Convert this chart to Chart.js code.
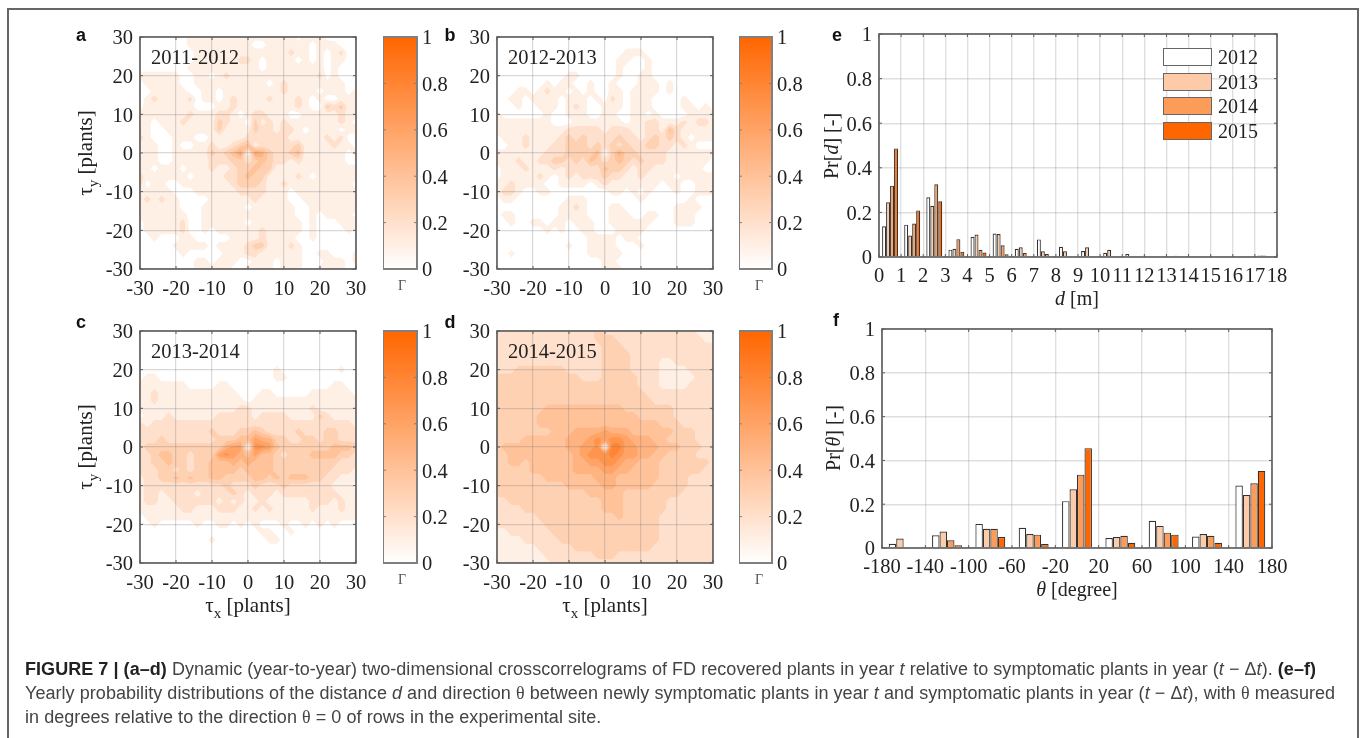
<!DOCTYPE html>
<html>
<head>
<meta charset="utf-8">
<script src="https://cdn.jsdelivr.net/npm/chart.js@4"></script>
<style>
  html, body { margin: 0; background: #fff; }
  #page { position: relative; width: 1360px; height: 738px; overflow: hidden; filter: blur(0.35px); }
  #page canvas { position: absolute; }
  .t { position: absolute; font-family: "Liberation Serif", serif; font-size: 20px; color: #222; white-space: nowrap; transform: translate(-50%, -50%); }
  .l { transform: translate(0, -50%); }
  .v { transform: translate(-50%, -50%) rotate(-90deg); }
  .b { font-family: "Liberation Sans", sans-serif; font-weight: bold; font-size: 18px; color: #111; }
  .s { font-size: 15px; position: relative; top: 6px; }
  .rule { position: absolute; background: #666; }
  .cap { position: absolute; left: 25px; font-family: "Liberation Sans", sans-serif; font-size: 18px; letter-spacing: 0.05px; color: #444; white-space: nowrap; transform: translateY(-50%); }
  .cap b { color: #222; }
  .cap i.g { font-family: "Liberation Serif", serif; font-style: normal; }
  .swatch { position: absolute; box-sizing: border-box; width: 49px; height: 18px; border: 1.5px solid #666; }
</style>
</head>
<body>
<div id="page"></div>
<script>
// grid positions of the crosscorrelograms, plants
const tauValues = [-30,-28,-26,-24,-22,-20,-18,-16,-14,-12,-10,-8,-6,-4,-2,0,2,4,6,8,10,12,14,16,18,20,22,24,26,28,30];

// Gamma in tenths, top row is tau_y = 30, left column is tau_x = -30
const gammaA = [
  "00000 00111 11111 11111 11011 10000 0",
  "00000 00111 11111 10011 11110 11100 0",
  "00000 00011 11111 11111 12110 10120 0",
  "00000 00011 11112 21011 11010 10110 0",
  "00000 00111 11111 11011 11111 10100 0",
  "11111 10011 01211 11111 11111 20100 0",
  "01111 10011 11111 11101 21111 11110 0",
  "00111 11001 10111 11111 21111 01110 1",
  "01211 11201 10121 11121 11210 10011 1",
  "01111 11100 01121 11111 11210 03231 1",
  "11111 11211 12210 12211 10011 11121 1",
  "11011 12111 13211 03121 21111 11121 0",
  "11001 11111 13111 13221 22101 11101 1",
  "21000 11100 11111 22222 21111 12120 0",
  "11100 10011 21123 41222 22311 11211 0",
  "01100 11111 32346 06532 23411 11110 1",
  "11100 11111 22233 23432 21211 11110 0",
  "11011 10111 21123 34331 11111 11111 1",
  "21111 11011 11223 43311 11210 11111 1",
  "20110 01111 11123 33211 21111 11111 0",
  "01111 00011 11112 22211 10111 11111 1",
  "12121 10000 11111 12111 10011 11111 1",
  "11111 10001 11111 01111 11001 11111 1",
  "11111 11001 11111 11111 11001 01111 0",
  "01111 12001 11111 01111 11101 00011 1",
  "01111 12001 01111 11211 11101 00001 0",
  "00100 01100 00011 11211 11001 00000 0",
  "00000 11111 01111 23311 12100 00000 0",
  "00000 01000 00111 22111 11100 11000 1",
  "00000 00011 01110 01110 11100 01110 1",
  "00000 00011 11100 11110 11100 11110 0"
];
const gammaB = [
  "00000 00000 00000 10000 00000 00000 0",
  "00000 00000 00000 00000 00000 00000 0",
  "00000 00000 00000 00011 10000 00000 0",
  "00100 00000 00000 00110 01000 00000 0",
  "00000 00000 00000 00100 01000 00000 0",
  "10000 00000 11000 00100 11000 00000 0",
  "00000 00101 10010 01000 11101 00000 0",
  "00011 01211 01010 01101 11101 00000 0",
  "00110 11110 11101 02101 11000 01000 0",
  "00010 01110 12100 11101 11000 01101 0",
  "10000 00100 11100 11001 10100 00111 1",
  "11111 11100 01111 11101 12211 12122 1",
  "11111 11111 22222 12221 12214 21111 1",
  "01112 11112 32322 22322 12323 21011 1",
  "00112 11122 33323 23232 23322 12100 0",
  "11111 11222 33334 03533 22221 11111 1",
  "11121 12233 23243 23432 32221 11111 0",
  "01112 11121 22222 43321 22111 11110 0",
  "01111 12101 21222 32211 21111 01111 1",
  "11211 11001 11101 21111 11101 10011 1",
  "12210 01100 00000 01101 01000 10011 1",
  "01100 00000 11100 00000 10000 00100 0",
  "00000 00001 12100 01100 00000 11110 0",
  "01100 00001 11100 01110 01100 11100 0",
  "00100 11011 01110 01111 11000 11100 0",
  "00000 00101 00110 00111 10000 00000 0",
  "00000 00000 00011 11011 00000 00000 0",
  "00000 00000 10011 11000 10000 00000 0",
  "00100 00000 00011 11100 00000 00000 0",
  "00000 00000 00000 11000 00000 00000 0",
  "00000 00000 00000 11100 00000 00000 0"
];
const gammaC = [
  "00000 00000 00000 00000 00000 00000 0",
  "00000 00000 00000 00000 00000 00000 0",
  "00000 00000 00000 00000 00000 00000 0",
  "00000 00000 00000 00000 00000 00000 0",
  "00000 00000 00000 00000 00000 00000 0",
  "00000 00000 00000 00001 00000 00010 0",
  "01100 00000 00000 00001 10000 00000 0",
  "11111 11000 01100 00000 00000 00110 0",
  "11211 11111 11110 00110 00001 11111 0",
  "11211 11111 11111 01111 11111 11111 1",
  "11111 11111 11112 21111 11112 11111 1",
  "01112 11111 12222 21222 21111 32111 1",
  "21222 22222 22222 22222 22222 22222 1",
  "22222 22222 32223 34322 22322 23322 2",
  "22232 22222 23334 46553 32233 23322 2",
  "23333 33333 33566 07764 33333 33444 3",
  "22344 33233 36765 46443 23334 44433 2",
  "22334 33233 44454 54443 33333 33322 2",
  "22233 23233 44443 44443 33333 33222 1",
  "12233 43433 44333 34434 34443 32211 1",
  "12222 22222 22322 23222 32222 22111 0",
  "12212 22212 22232 12221 22222 22211 1",
  "12211 22222 21212 11211 11112 22121 1",
  "11111 12211 12221 12121 11112 11121 1",
  "01111 11111 11111 11111 11111 11111 1",
  "00100 00010 01101 01000 10010 10100 0",
  "00000 00000 00000 00110 01000 00000 0",
  "00000 00000 10000 00011 00000 00000 0",
  "00000 00000 00000 00000 00000 00000 0",
  "00000 00000 00000 00000 00000 00000 0",
  "00000 00000 00000 00000 00000 00000 0"
];
const gammaD = [
  "22222 22222 22223 22222 22222 22211 1",
  "22222 22222 22223 33222 22222 22221 1",
  "22222 22222 22222 33322 22222 22222 2",
  "22222 22222 22222 33332 22222 22222 2",
  "22222 22222 22222 33332 22211 22222 2",
  "22233 33333 22222 33332 22211 11222 2",
  "33333 33333 33222 33333 22211 11122 2",
  "33333 33333 33333 33333 22211 11222 2",
  "33333 33333 33333 33333 32222 22222 2",
  "33333 33333 33333 33333 33222 22222 2",
  "33333 33444 44444 44433 33333 22222 2",
  "33333 34444 44444 44444 33333 22222 2",
  "33333 34444 44444 44444 44433 32222 2",
  "33333 33344 45555 65554 44444 33322 2",
  "33334 44444 55567 67765 55443 33322 2",
  "34444 44444 55667 08866 55544 43332 2",
  "33444 44444 45677 78766 55443 33322 2",
  "33443 44444 45566 77655 44433 33333 2",
  "33333 44444 45555 66554 44433 33332 2",
  "33333 33444 44445 55444 44433 33222 2",
  "33333 33333 44444 55444 44333 33222 2",
  "33333 33333 33344 44433 33333 32222 2",
  "22333 33333 33333 44433 33332 22222 2",
  "22223 33333 33333 44433 33332 22222 2",
  "22222 23333 33333 33433 33322 22222 2",
  "22222 22333 33333 33333 33322 22222 2",
  "11222 22233 33333 33333 33322 22222 2",
  "11112 22223 33333 33333 33322 22222 2",
  "11111 12222 23333 33333 33222 22222 2",
  "11111 11222 22223 33222 22222 22222 2",
  "11111 11122 22222 22222 22222 22222 2"
];

const years = ["2012", "2013", "2014", "2015"];
const yearColors = ["#ffffff", "#fdcba8", "#fd9c58", "#ff6600"];

// panel e, bin centres in m
const distBins = [0.5,1.5,2.5,3.5,4.5,5.5,6.5,7.5,8.5,9.5,10.5,11.5,12.5,13.5,14.5,15.5,16.5,17.5];
const dist2012 = [0.138,0.145,0.268,0.033,0.091,0.105,0.037,0.079,0.046,0.027,0.019,0.013,0,0,0,0,0,0.007];
const dist2013 = [0.245,0.096,0.23,0.037,0.101,0.103,0.044,0.026,0.026,0.044,0.032,0,0,0.006,0.005,0,0,0.007];
const dist2014 = [0.32,0.15,0.326,0.08,0.032,0.053,0.018,0.014,0,0,0.003,0,0,0,0,0,0,0.005];
const dist2015 = [0.487,0.209,0.25,0.024,0.02,0.012,0.002,0,0,0,0,0,0,0,0,0,0,0.003];

// panel f, bin centres in degrees
const angleBins = [-160,-120,-80,-40,0,40,80,120,160];
const angle2012 = [0.019,0.058,0.11,0.092,0.214,0.046,0.124,0.052,0.285];
const angle2013 = [0.043,0.075,0.088,0.064,0.268,0.05,0.101,0.064,0.242];
const angle2014 = [0,0.035,0.088,0.061,0.335,0.056,0.07,0.056,0.296];
const angle2015 = [0,0.012,0.05,0.018,0.456,0.024,0.061,0.024,0.352];

const page = document.getElementById("page");
const serif = "'Liberation Serif', serif";
const tickFont = { family: serif, size: 20.5 };

function gammaColor(v) {
  return `rgb(255,${Math.round(255 - 153 * v)},${Math.round(255 - 255 * v)})`;
}

function toPoints(rows) {
  const pts = [];
  rows.forEach((row, j) => {
    const cells = row.replace(/ /g, "");
    tauValues.forEach((x, i) => {
      pts.push({ x: x, y: tauValues[tauValues.length - 1 - j], v: Number(cells[i]) });
    });
  });
  return pts;
}

// filled contours, cut out of each grid cell level by level
const contourFill = {
  id: "contourFill",
  beforeDatasetsDraw(chart) {
    const pts = chart.data.datasets[0].data;
    const n = tauValues.length;
    const ctx = chart.ctx;
    const sx = chart.scales.x;
    const sy = chart.scales.y;
    ctx.save();
    for (let level = 1; level <= 9; level++) {
      const cut = level - 0.5;
      ctx.beginPath();
      for (let j = 0; j < n - 1; j++) {
        for (let i = 0; i < n - 1; i++) {
          const c = [pts[j * n + i], pts[j * n + i + 1], pts[(j + 1) * n + i + 1], pts[(j + 1) * n + i]];
          const poly = [];
          c.forEach((p, k) => {
            const q = c[(k + 1) % 4];
            if (p.v >= cut) poly.push([p.x, p.y]);
            if ((p.v >= cut) !== (q.v >= cut)) {
              const f = (cut - p.v) / (q.v - p.v);
              poly.push([p.x + f * (q.x - p.x), p.y + f * (q.y - p.y)]);
            }
          });
          poly.forEach((p, k) => {
            const px = sx.getPixelForValue(p[0]);
            const py = sy.getPixelForValue(p[1]);
            if (k === 0) ctx.moveTo(px, py);
            else ctx.lineTo(px, py);
          });
          if (poly.length) ctx.closePath();
        }
      }
      ctx.fillStyle = gammaColor(level / 10);
      ctx.fill();
    }
    ctx.restore();
  },
};

// box round the plot with short inward ticks on all four sides
const frameTicks = {
  id: "frameTicks",
  afterDraw(chart, args, opts) {
    const a = chart.chartArea;
    const ctx = chart.ctx;
    ctx.save();
    ctx.strokeStyle = opts.color;
    ctx.lineWidth = opts.width;
    ctx.strokeRect(a.left, a.top, a.right - a.left, a.bottom - a.top);
    ctx.lineWidth = 1;
    ctx.beginPath();
    Object.values(chart.scales).forEach((s) => {
      if (s.options.display === false) return;
      s.ticks.forEach((t) => {
        const p = s.getPixelForValue(t.value);
        if (s.isHorizontal()) {
          ctx.moveTo(p, a.bottom); ctx.lineTo(p, a.bottom - 3);
          ctx.moveTo(p, a.top); ctx.lineTo(p, a.top + 3);
        } else {
          ctx.moveTo(a.left, p); ctx.lineTo(a.left + 3, p);
          ctx.moveTo(a.right, p); ctx.lineTo(a.right - 3, p);
        }
      });
    });
    ctx.stroke();
    ctx.restore();
  },
};

function addCanvas(box) {
  const c = document.createElement("canvas");
  c.width = box.w;
  c.height = box.h;
  c.style.left = box.x + "px";
  c.style.top = box.y + "px";
  page.appendChild(c);
  return c;
}

function baseOptions(plot, box) {
  return {
    responsive: false,
    animation: false,
    devicePixelRatio: 1,
    layout: {
      padding: { left: 0, bottom: 0, top: plot.top - box.y, right: box.x + box.w - plot.right },
    },
    plugins: {
      legend: { display: false },
      tooltip: { enabled: false },
      frameTicks: { color: "#5c5c5c", width: 1.6 },
    },
  };
}

function linearAxis(min, max, step, gridColor, gridWidth, fixedSize, isX, pad) {
  return {
    type: "linear",
    min: min,
    max: max,
    offset: false,
    afterFit(s) {
      if (s.isHorizontal()) s.height = fixedSize;
      else s.width = fixedSize;
    },
    grid: { color: gridColor, lineWidth: gridWidth, drawTicks: false, offset: false },
    border: { display: false },
    ticks: {
      stepSize: step,
      autoSkip: false,
      maxRotation: 0,
      font: tickFont,
      color: "#222",
      padding: pad,
      labelOffset: isX ? 0 : 2,
      callback: (v) => String(Number(v.toFixed(1))),
    },
  };
}

function drawCorrelogram(rows, plot) {
  const box = { x: plot.left - 70, y: plot.top - 20, w: plot.right - plot.left + 90, h: plot.bottom - plot.top + 55 };
  const xAxis = linearAxis(-30, 30, 10, "rgba(120,120,120,0.28)", 1.2, box.y + box.h - plot.bottom, true, 8);
  const yAxis = linearAxis(-30, 30, 10, "rgba(120,120,120,0.28)", 1.2, plot.left - box.x, false, 7);
  xAxis.grid.z = 1;
  yAxis.grid.z = 1;
  return new Chart(addCanvas(box), {
    type: "scatter",
    data: { datasets: [{ data: toPoints(rows), pointRadius: 0 }] },
    options: Object.assign(baseOptions(plot, box), { scales: { x: xAxis, y: yAxis } }),
    plugins: [contourFill, frameTicks],
  });
}

function drawColorbar(plot) {
  const box = { x: plot.left, y: plot.top - 20, w: plot.right - plot.left + 45, h: plot.bottom - plot.top + 40 };
  const yAxis = linearAxis(0, 1, 0.2, "rgba(0,0,0,0)", 1, 45, false, 5);
  yAxis.position = "right";
  const opts = baseOptions(plot, box);
  opts.layout.padding.right = 0;
  opts.layout.padding.bottom = 20;
  opts.plugins.frameTicks = { color: "#808080", width: 2 };
  return new Chart(addCanvas(box), {
    type: "bar",
    data: {
      labels: ["Γ"],
      datasets: [{
        data: [1],
        barPercentage: 1,
        categoryPercentage: 1,
        backgroundColor(ctx) {
          const a = ctx.chart.chartArea;
          if (!a) return "#ff6600";
          const g = ctx.chart.ctx.createLinearGradient(0, a.bottom, 0, a.top);
          g.addColorStop(0, "#ffffff");
          g.addColorStop(1, "#ff6600");
          return g;
        },
      }],
    },
    options: Object.assign(opts, { scales: { x: { display: false }, y: yAxis } }),
    plugins: [frameTicks],
  });
}

function drawBars(plot, bins, series, xMin, xMax, xStep, groupWidth) {
  const box = { x: plot.left - 50, y: plot.top - 20, w: plot.right - plot.left + 75, h: plot.bottom - plot.top + 50 };
  const xAxis = linearAxis(xMin, xMax, xStep, "rgba(150,150,150,0.3)", 1.4, box.y + box.h - plot.bottom, true, 7.5);
  const yAxis = linearAxis(0, 1, 0.2, "rgba(150,150,150,0.3)", 1.4, plot.left - box.x, false, 7);
  return new Chart(addCanvas(box), {
    type: "bar",
    data: {
      datasets: series.map((values, k) => ({
        label: years[k],
        data: values.map((v, i) => ({ x: bins[i], y: v })),
        backgroundColor: yearColors[k],
        borderColor: "#333333",
        borderWidth: 1.2,
        categoryPercentage: groupWidth,
        barPercentage: 1,
      })),
    },
    options: Object.assign(baseOptions(plot, box), { scales: { x: xAxis, y: yAxis } }),
    plugins: [frameTicks],
  });
}

function text(html, x, y, cls, extra) {
  const d = document.createElement("div");
  d.className = "t " + (cls || "");
  d.innerHTML = html;
  d.style.left = x + "px";
  d.style.top = y + "px";
  if (extra) d.style.cssText += extra;
  page.appendChild(d);
}

// outer frame
[[7, 8, 1351, 2], [7, 8, 1.5, 730], [1357, 8, 1.5, 730]].forEach((r) => {
  const d = document.createElement("div");
  d.className = "rule";
  d.style.cssText = `left:${r[0]}px;top:${r[1]}px;width:${r[2]}px;height:${r[3]}px`;
  page.appendChild(d);
});

const rowTop = { top: 37, bottom: 269 };
const rowLow = { top: 331, bottom: 563 };
const colA = { left: 140, right: 356 };
const colB = { left: 497, right: 713 };
const barA = { left: 383, right: 417 };
const barB = { left: 739, right: 772 };

drawCorrelogram(gammaA, { ...colA, ...rowTop });
drawCorrelogram(gammaB, { ...colB, ...rowTop });
drawCorrelogram(gammaC, { ...colA, ...rowLow });
drawCorrelogram(gammaD, { ...colB, ...rowLow });
drawColorbar({ ...barA, ...rowTop });
drawColorbar({ ...barB, ...rowTop });
drawColorbar({ ...barA, ...rowLow });
drawColorbar({ ...barB, ...rowLow });
drawBars({ left: 879, right: 1277, top: 34, bottom: 257 }, distBins, [dist2012, dist2013, dist2014, dist2015], 0, 18, 1, 0.72);
drawBars({ left: 882, right: 1272, top: 329, bottom: 548 }, angleBins, [angle2012, angle2013, angle2014, angle2015], -180, 180, 40, 0.69);

// panel letters
text("a", 81, 35, "b");
text("b", 450, 35, "b");
text("c", 81, 322, "b");
text("d", 450, 322, "b");
text("e", 837, 35, "b");
text("f", 836, 320, "b");

// period names
text("2011-2012", 151, 57, "l", "font-size:20.5px");
text("2012-2013", 508, 57, "l", "font-size:20.5px");
text("2013-2014", 151, 351, "l", "font-size:20.5px");
text("2014-2015", 508, 351, "l", "font-size:20.5px");

// colorbar names
text("Γ", 402, 286, "", "font-size:14px;color:#555");
text("Γ", 759, 286, "", "font-size:14px;color:#555");
text("Γ", 402, 580, "", "font-size:14px;color:#555");
text("Γ", 759, 580, "", "font-size:14px;color:#555");

// axis titles
const tauY = 'τ<span class="s">y</span> [plants]';
const tauX = 'τ<span class="s">x</span> [plants]';
text(tauY, 85, 153, "v", "font-size:21px");
text(tauY, 85, 447, "v", "font-size:21px");
text(tauX, 248, 605, "", "font-size:21px");
text(tauX, 605, 605, "", "font-size:21px");
text("<i>d</i> [m]", 1077, 298);
text("Pr[<i>d</i>] [-]", 831, 146, "v");
text("<i>θ</i> [degree]", 1077, 589);
text("Pr[<i>θ</i>] [-]", 833, 438, "v");

// legend of panel e
years.forEach((y, k) => {
  const top = 48 + k * 24.7;
  const s = document.createElement("div");
  s.className = "swatch";
  s.style.left = "1163px";
  s.style.top = top + "px";
  s.style.background = yearColors[k];
  page.appendChild(s);
  text(y, 1218, top + 9, "l");
});

// caption
const capLines = [
  '<b>FIGURE 7 | (a–d)</b> Dynamic (year-to-year) two-dimensional crosscorrelograms of FD recovered plants in year <i>t</i> relative to symptomatic plants in year (<i>t</i> − Δ<i>t</i>). <b>(e–f)</b>',
  'Yearly probability distributions of the distance <i>d</i> and direction <i class="g">θ</i> between newly symptomatic plants in year <i>t</i> and symptomatic plants in year (<i>t</i> − Δ<i>t</i>), with <i class="g">θ</i> measured',
  'in degrees relative to the direction <i class="g">θ</i> = 0 of rows in the experimental site.',
];
capLines.forEach((line, k) => {
  const d = document.createElement("div");
  d.className = "cap";
  d.innerHTML = line;
  d.style.top = 669 + k * 24 + "px";
  page.appendChild(d);
});
</script>
</body>
</html>
